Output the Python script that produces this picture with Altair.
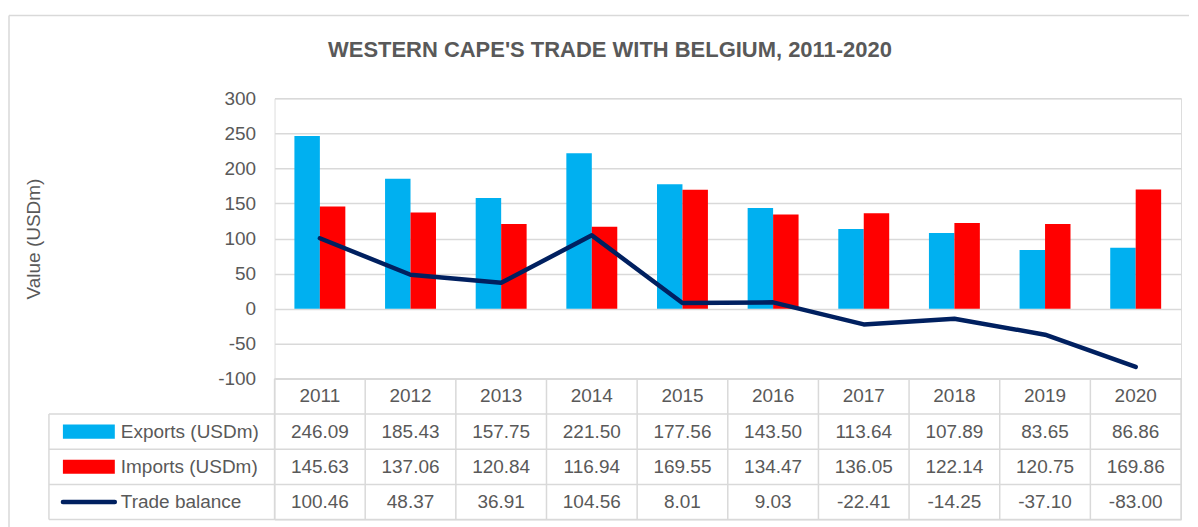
import altair as alt
import pandas as pd

# ---------------- data ----------------
years = ["2011", "2012", "2013", "2014", "2015", "2016", "2017", "2018", "2019", "2020"]
exports = [246.09, 185.43, 157.75, 221.50, 177.56, 143.50, 113.64, 107.89, 83.65, 86.86]
imports = [145.63, 137.06, 120.84, 116.94, 169.55, 134.47, 136.05, 122.14, 120.75, 169.86]
balance = [100.46, 48.37, 36.91, 104.56, 8.01, 9.03, -22.41, -14.25, -37.10, -83.00]
series_names = ["Exports (USDm)", "Imports (USDm)", "Trade balance"]
series_colors = ["#00B0F0", "#FF0000", "#002060"]
y_ticks = [-100, -50, 0, 50, 100, 150, 200, 250, 300]
y_title = "Value (USDm)"
chart_title = "WESTERN CAPE'S TRADE WITH BELGIUM, 2011-2020"

# ---------------- style / layout ----------------
FONT = "Liberation Sans, Arial, sans-serif"
TXT = "#595959"
GRID = "#D9D9D9"
FS = 19

W = 908            # plot width (year columns)
PLOT_H = 281       # plot height (-100 .. 300)
N_ROWS = 4         # header + 3 series rows
ROW_H = 35.25
TABLE_H = ROW_H * N_ROWS
H = PLOT_H + TABLE_H
LABEL_W = 226      # legend column of the data table

n = len(years)
series_values = [exports, imports, balance]

# ---------------- main chart (bars + line) ----------------
bars_df = pd.DataFrame({
    "year": years * 2,
    "series": [series_names[0]] * n + [series_names[1]] * n,
    "value": exports + imports,
})
line_df = pd.DataFrame({"year": years, "value": balance})

color_scale = alt.Scale(domain=series_names, range=series_colors)
x_scale = alt.Scale(domain=years, paddingInner=0, paddingOuter=0)
y_scale = alt.Scale(domain=[y_ticks[0], y_ticks[-1]], range=[PLOT_H, 0], nice=False, zero=False)
y_axis = alt.Axis(
    values=y_ticks, title=y_title, grid=True, gridColor=GRID, gridWidth=1.5,
    domain=False, ticks=False, labelPadding=19, labelFont=FONT, labelFontSize=FS,
    labelColor=TXT, titleFont=FONT, titleFontSize=FS, titleFontWeight="normal",
    titleColor=TXT, titleX=-241, titleBaseline="middle",
    labelExpr="datum.value < 0 ? '-' + abs(datum.value) : '' + datum.value",
)

bars = alt.Chart(bars_df).mark_bar().encode(
    x=alt.X("year:N", sort=years, scale=x_scale, axis=None),
    xOffset=alt.XOffset("series:N", sort=series_names[:2],
                        scale=alt.Scale(domain=series_names[:2], paddingInner=0, paddingOuter=0.78)),
    y=alt.Y("value:Q", scale=y_scale, axis=y_axis),
    color=alt.Color("series:N", scale=color_scale, legend=None),
)
line = alt.Chart(line_df).mark_line(
    color=series_colors[2], strokeWidth=4.5, strokeCap="round", strokeJoin="round"
).encode(
    x=alt.X("year:N", sort=years, scale=x_scale, axis=None),
    y=alt.Y("value:Q", scale=y_scale, axis=y_axis),
)
main = alt.layer(bars, line)

# ---------------- data table ----------------
# table x in column units: legend column spans [-3, 0] (symbol between -2 and -1), years [0, n]
tx_scale = alt.Scale(domain=[-3, -2, -1, 0, n],
                     range=[-LABEL_W, -LABEL_W + 14, -LABEL_W + 66, 0, W],
                     nice=False, zero=False)
ty_scale = alt.Scale(domain=[0, N_ROWS], range=[PLOT_H, H], nice=False, zero=False)

cells = []
for c, yr in enumerate(years):
    cells.append({"col": c, "row": 0, "label": yr})
    for r, vals in enumerate(series_values, start=1):
        cells.append({"col": c, "row": r, "label": f"{vals[c]:.2f}"})
cells_df = pd.DataFrame(cells)

cell_text = alt.Chart(cells_df).transform_calculate(
    xc="datum.col + 0.5", yc="datum.row + 0.5"
).mark_text(font=FONT, fontSize=FS, color=TXT).encode(
    x=alt.X("xc:Q", scale=tx_scale, axis=None),
    y=alt.Y("yc:Q", scale=ty_scale, axis=None),
    text="label:N",
)

leg_df = pd.DataFrame({"series": series_names, "row": list(range(1, len(series_names) + 1))})

leg_text = alt.Chart(leg_df).transform_calculate(
    yc="datum.row + 0.5"
).mark_text(font=FONT, fontSize=FS, color=TXT, align="left", dx=6).encode(
    x=alt.X(datum=-1, type="quantitative", scale=tx_scale, axis=None),
    y=alt.Y("yc:Q", scale=ty_scale, axis=None),
    text="series:N",
)

leg_rect = alt.Chart(leg_df).transform_filter(
    alt.datum.row <= 2
).transform_calculate(
    y1="datum.row + 0.3", y2="datum.row + 0.7"
).mark_rect().encode(
    x=alt.X(datum=-2, type="quantitative", scale=tx_scale, axis=None),
    x2=alt.X2(datum=-1),
    y=alt.Y("y1:Q", scale=ty_scale, axis=None),
    y2="y2:Q",
    color=alt.Color("series:N", scale=color_scale, legend=None),
)

leg_line = alt.Chart(leg_df).transform_filter(
    alt.datum.row == 3
).transform_calculate(
    yc="datum.row + 0.5"
).mark_rule(strokeWidth=4.5, strokeCap="round", color=series_colors[2]).encode(
    x=alt.X(datum=-2, type="quantitative", scale=tx_scale, axis=None),
    x2=alt.X2(datum=-1),
    y=alt.Y("yc:Q", scale=ty_scale, axis=None),
)

hl = []
for k in range(N_ROWS + 1):
    hl.append({"x1": 0 if k == 0 else -3, "x2": n, "y": k})
hl_df = pd.DataFrame(hl)
vl = [{"x": -3, "y1": 1, "y2": N_ROWS}] + [{"x": c, "y1": 0, "y2": N_ROWS} for c in range(n + 1)]
vl_df = pd.DataFrame(vl)

hlines = alt.Chart(hl_df).mark_rule(color=GRID, strokeWidth=1.5).encode(
    x=alt.X("x1:Q", scale=tx_scale, axis=None),
    x2="x2:Q",
    y=alt.Y("y:Q", scale=ty_scale, axis=None),
)
vlines = alt.Chart(vl_df).mark_rule(color=GRID, strokeWidth=1.5).encode(
    x=alt.X("x:Q", scale=tx_scale, axis=None),
    y=alt.Y("y1:Q", scale=ty_scale, axis=None),
    y2="y2:Q",
)

# chart-area frame (left and top edges, as in the spreadsheet export)
frame_df = pd.DataFrame({"edge": ["frame"]})
frame_top = alt.Chart(frame_df).mark_rule(color=GRID, strokeWidth=1.5).encode(
    x=alt.value(-266), x2=alt.value(916), y=alt.value(-83)
)
frame_left = alt.Chart(frame_df).mark_rule(color=GRID, strokeWidth=1.5).encode(
    x=alt.value(-266), y=alt.value(-83), y2=alt.value(H + 8)
)

table = alt.layer(hlines, vlines, leg_rect, leg_line, leg_text, cell_text, frame_top, frame_left)

chart = alt.layer(main, table).resolve_scale(
    x="independent", y="independent"
).properties(
    width=W,
    height=H,
    padding={"left": 0, "top": 6, "right": 0, "bottom": 0},
    title=alt.TitleParams(
        chart_title, font=FONT, fontSize=22, fontWeight="bold", color=TXT,
        anchor="middle", offset=-47, dx=-118,
    ),
).configure_view(stroke=None).configure(background="white")

chart.save("out.html", embed_options={"renderer": "svg", "actions": False})
